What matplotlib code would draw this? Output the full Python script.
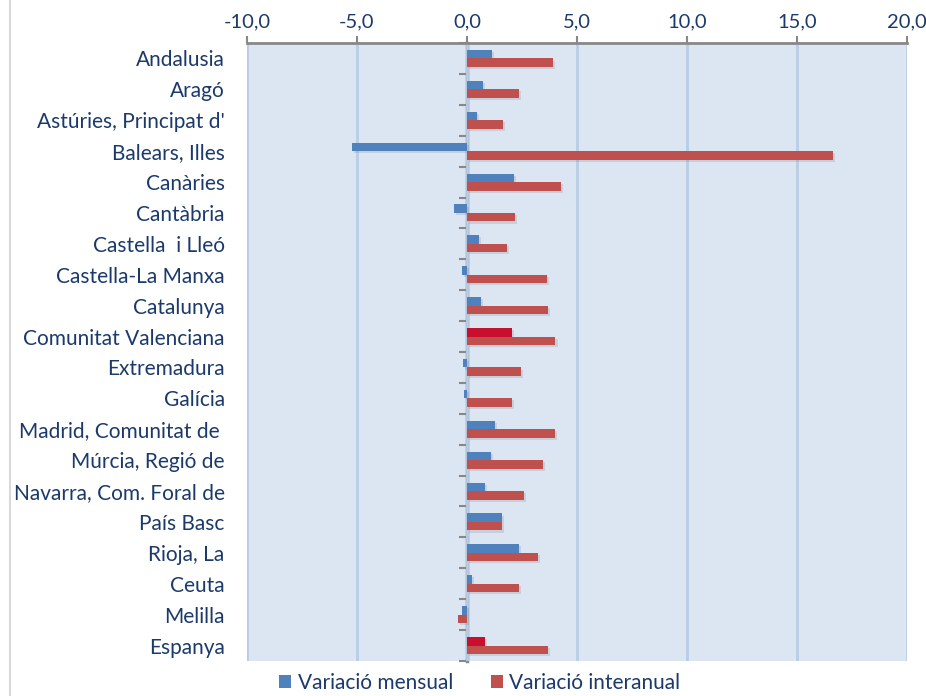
import matplotlib.pyplot as plt
import matplotlib.patheffects as pe
import numpy as np
from matplotlib.patches import Rectangle

plt.rcParams["font.family"] = ["Lato", "DejaVu Sans"]

regions = [
    "Andalusia", "Aragó", "Astúries, Principat d'", "Balears, Illes", "Canàries",
    "Cantàbria", "Castella  i Lleó", "Castella-La Manxa", "Catalunya",
    "Comunitat Valenciana", "Extremadura", "Galícia", "Madrid, Comunitat de ",
    "Múrcia, Regió de", "Navarra, Com. Foral de", "País Basc", "Rioja, La",
    "Ceuta", "Melilla", "Espanya",
]
var_mensual = [1.15, 0.74, 0.44, -5.23, 2.14, -0.58, 0.56, -0.24, 0.62, 2.06,
               -0.18, -0.14, 1.29, 1.09, 0.82, 1.59, 2.38, 0.24, -0.21, 0.83]
var_interanual = [3.89, 2.38, 1.65, 16.64, 4.27, 2.20, 1.83, 3.64, 3.67, 4.02,
                  2.45, 2.05, 4.00, 3.45, 2.58, 1.61, 3.23, 2.38, -0.39, 3.68]
destacats = ["Comunitat Valenciana", "Espanya"]
x_ticks = [-10, -5, 0, 5, 10, 15, 20]

BLAU = "#4F81BD"
VERMELL = "#C0504D"
CARMI = "#C8102E"
TEXT = "#1B3A6B"

fig = plt.figure(figsize=(9.26, 6.96), dpi=100)
ax = fig.add_axes([0.2667, 0.0503, 0.9795 - 0.2667, 0.9382 - 0.0503])
ax.set_facecolor("#DCE6F2")

y = np.arange(len(regions))
h = 0.275
colors_m = [CARMI if r in destacats else BLAU for r in regions]
shadow = [pe.SimplePatchShadow(offset=(1.5, -1.5), shadow_rgbFace="#555555", alpha=0.15), pe.Normal()]
b1 = ax.barh(y - h / 2, var_mensual, height=h, color=colors_m, label="Variació mensual", zorder=3)
b2 = ax.barh(y + h / 2, var_interanual, height=h, color=VERMELL, label="Variació interanual", zorder=3)
for p in list(b1) + list(b2):
    p.set_path_effects(shadow)

xlo, xhi = -10, 20
ax.set_xlim(xlo, xhi)
ax.set_ylim(len(regions) - 0.5, -0.5)
ax.set_xticks(x_ticks)
ax.set_xticklabels([f"{v:.1f}".replace(".", ",") for v in x_ticks])
ax.xaxis.tick_top()
ax.tick_params(axis="x", colors="#888888", labelcolor=TEXT, labelsize=14.5, length=5, width=1.5, pad=4)
ax.set_yticks(y)
ax.set_yticklabels(regions)
ax.tick_params(axis="y", length=0, labelsize=15, labelcolor=TEXT, pad=16)
ax.grid(axis="x", color="#B9CDE5", linewidth=2, zorder=1)
ax.set_axisbelow(True)
for s in ["left", "right", "bottom"]:
    ax.spines[s].set_visible(False)
ax.spines["top"].set_color("#888888")
ax.spines["top"].set_linewidth(2)

# eix vertical al zero amb marques entre categories
zero = ax.secondary_yaxis((0 - xlo) / (xhi - xlo))
zero.set_yticks(np.arange(len(regions) + 1) - 0.5)
zero.set_yticklabels([])
zero.tick_params(length=6, width=1.5, color="#888888")
zero.spines["left"].set_color("#888888")
zero.spines["left"].set_linewidth(2.5)
zero.spines["left"].set_zorder(4)

fig.legend(handles=[b1[0], b2[0]], labels=["Variació mensual", "Variació interanual"],
           loc="center", bbox_to_anchor=(0.518, 0.019), ncol=2, frameon=False,
           fontsize=15, labelcolor=TEXT, handlelength=0.6, handleheight=0.6,
           handletextpad=0.3, columnspacing=1.8, borderpad=0.1)
# el quadre de la llegenda ha de ser blau encara que alguna barra estigui destacada
leg = fig.legends[0]
leg.legend_handles[0].set_facecolor(BLAU)
leg.legend_handles[0].set_path_effects([])
leg.legend_handles[1].set_path_effects([])

fig.patches.append(Rectangle((0.011, -0.1), 2, 2, transform=fig.transFigure,
                             fill=False, edgecolor="#D9D9D9", linewidth=1.5))

fig.savefig("out.png", dpi=100)
